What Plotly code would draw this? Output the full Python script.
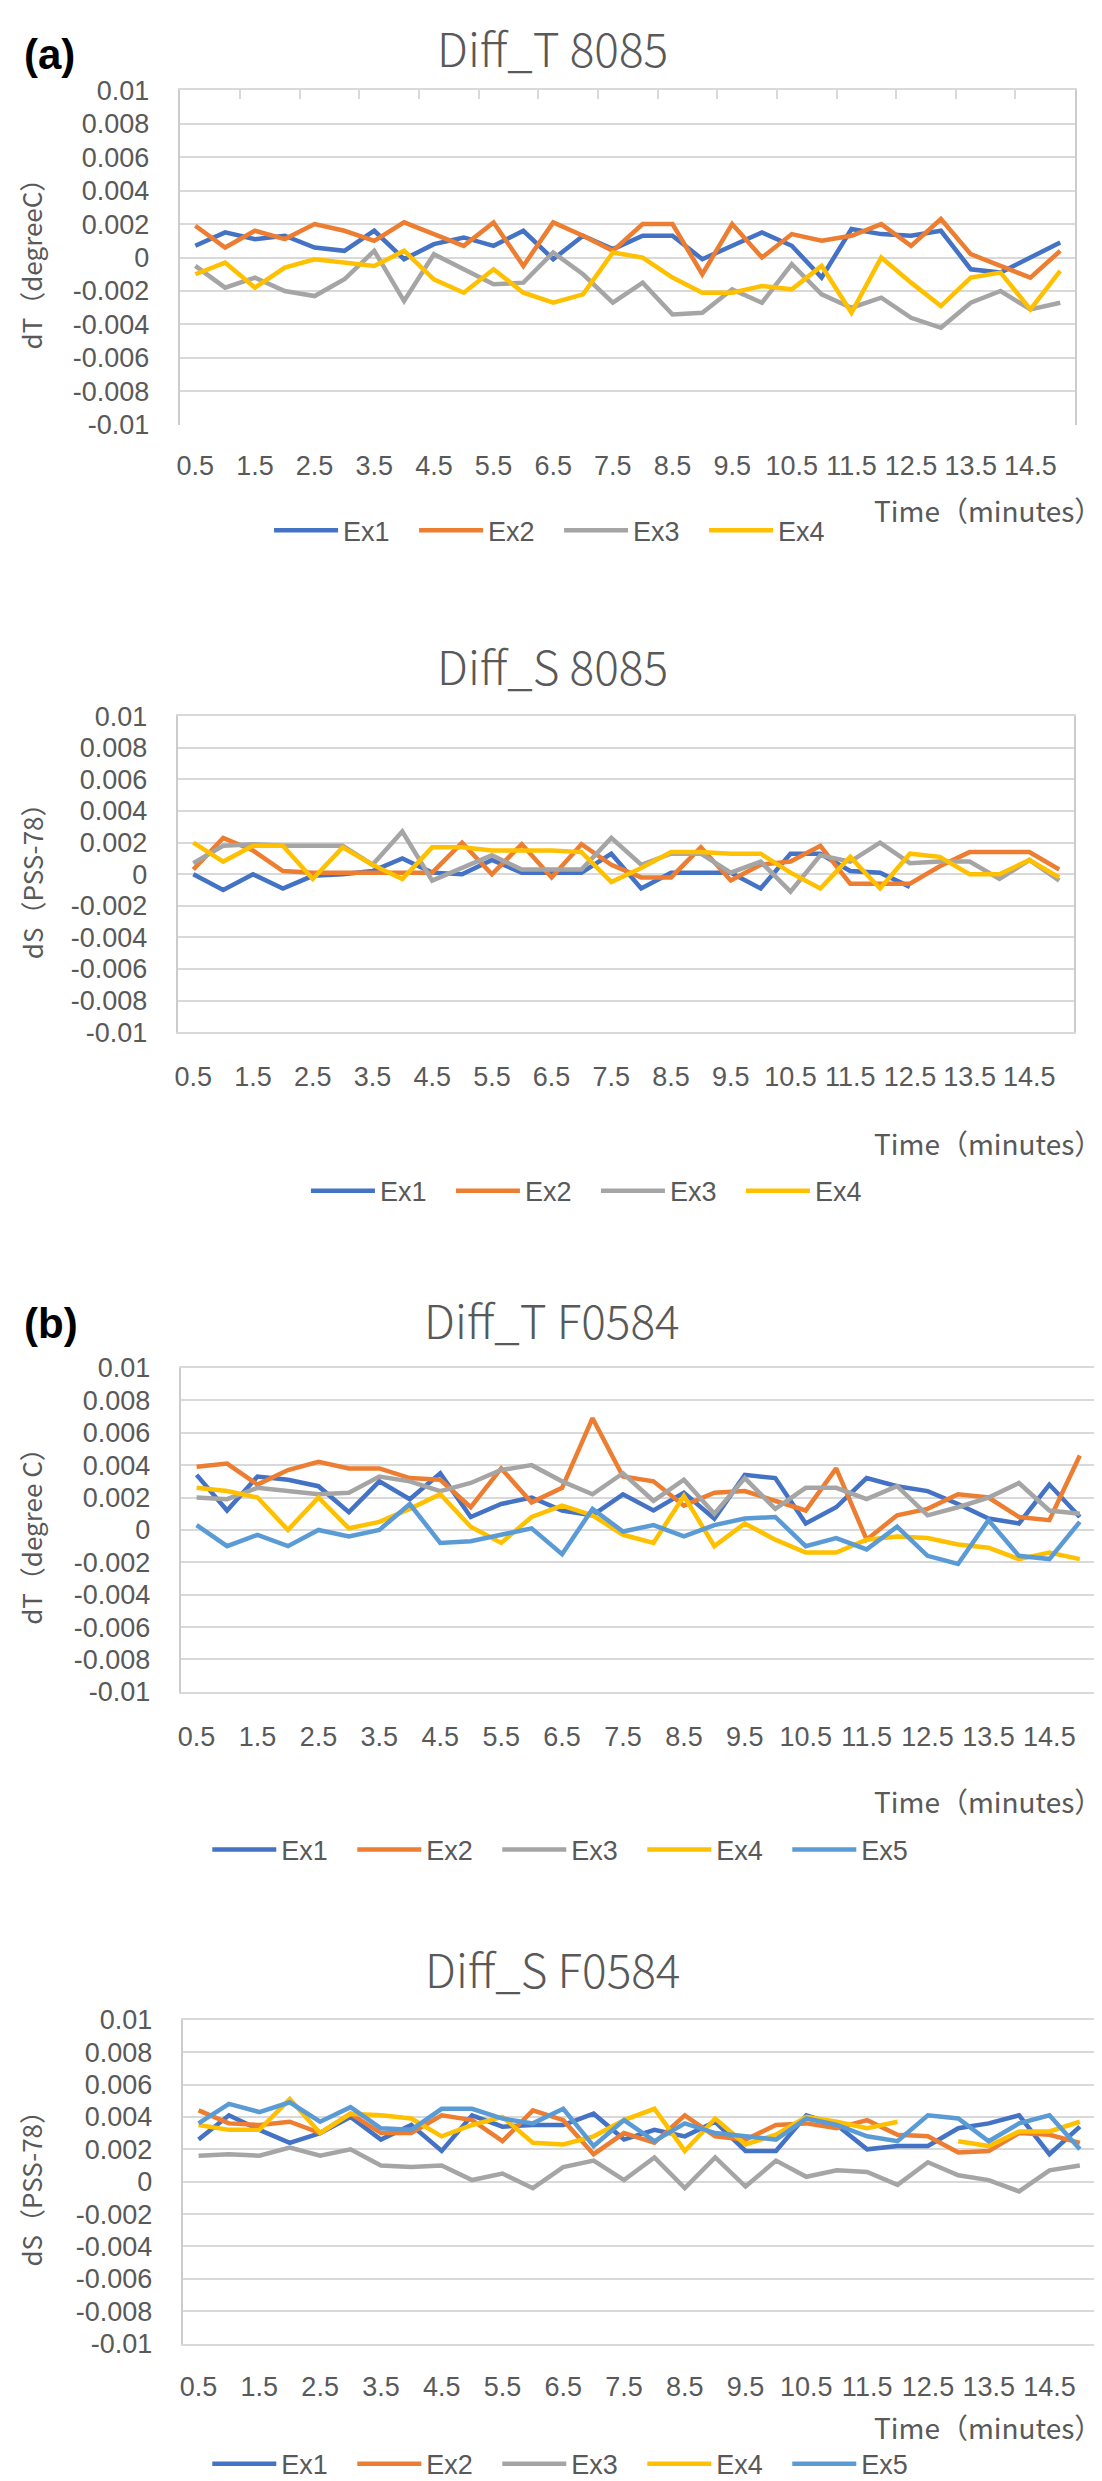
import plotly.graph_objects as go

# ---------------- data ----------------
times = [0.5, 1.0, 1.5, 2.0, 2.5, 3.0, 3.5, 4.0, 4.5, 5.0,
         5.5, 6.0, 6.5, 7.0, 7.5, 8.0, 8.5, 9.0, 9.5, 10.0,
         10.5, 11.0, 11.5, 12.0, 12.5, 13.0, 13.5, 14.0, 14.5, 15.0]
x_tick_vals = [0.5, 1.5, 2.5, 3.5, 4.5, 5.5, 6.5, 7.5, 8.5, 9.5, 10.5, 11.5, 12.5, 13.5, 14.5]
x_tick_text = ["0.5", "1.5", "2.5", "3.5", "4.5", "5.5", "6.5", "7.5", "8.5", "9.5",
               "10.5", "11.5", "12.5", "13.5", "14.5"]
x_top_ticks = [1.25, 2.25, 3.25, 4.25, 5.25, 6.25, 7.25, 8.25, 9.25, 10.25, 11.25, 12.25, 13.25, 14.25]
y_tick_vals = [-0.01, -0.008, -0.006, -0.004, -0.002, 0, 0.002, 0.004, 0.006, 0.008, 0.01]
y_tick_text = ["-0.01", "-0.008", "-0.006", "-0.004", "-0.002", "0", "0.002", "0.004", "0.006", "0.008", "0.01"]

series_names = ["Ex1", "Ex2", "Ex3", "Ex4", "Ex5"]

# (a) Diff_T 8085
t8085_ex1 = [0.0007, 0.0015, 0.0011, 0.0013, 0.0006, 0.0004, 0.0016, -0.0001, 0.0008, 0.0012,
             0.0007, 0.0016, -0.0001, 0.0013, 0.0005, 0.0013, 0.0013, -0.0001, 0.0007, 0.0015,
             0.0007, -0.0012, 0.0017, 0.0014, 0.0013, 0.0016, -0.0007, -0.0009, 0.0000, 0.0009]
t8085_ex2 = [0.0019, 0.0006, 0.0016, 0.0011, 0.0020, 0.0016, 0.0010, 0.0021, 0.0014, 0.0007,
             0.0021, -0.0005, 0.0021, 0.0013, 0.0004, 0.0020, 0.0020, -0.0010, 0.0020, 0.0000,
             0.0014, 0.0010, 0.0013, 0.0020, 0.0007, 0.0023, 0.0002, -0.0005, -0.0012, 0.0004]
t8085_ex3 = [-0.0005, -0.0018, -0.0012, -0.0020, -0.0023, -0.0013, 0.0004, -0.0026, 0.0002, -0.0007,
             -0.0016, -0.0015, 0.0003, -0.0010, -0.0027, -0.0015, -0.0034, -0.0033, -0.0019, -0.0027,
             -0.0004, -0.0022, -0.0030, -0.0024, -0.0036, -0.0042, -0.0027, -0.0020, -0.0031, -0.0027]
t8085_ex4 = [-0.0010, -0.0003, -0.0018, -0.0006, -0.0001, -0.0003, -0.0005, 0.0004, -0.0013, -0.0021,
             -0.0007, -0.0021, -0.0027, -0.0022, 0.0003, 0.0000, -0.0012, -0.0021, -0.0021, -0.0017,
             -0.0019, -0.0005, -0.0033, 0.0000, -0.0015, -0.0029, -0.0012, -0.0009, -0.0031, -0.0008]

# (a) Diff_S 8085
s8085_ex1 = [0.0000, -0.0010, 0.0000, -0.0009, -0.0001, 0.0000, 0.0002, 0.0010, 0.0001, 0.0000,
             0.0009, 0.0001, 0.0001, 0.0001, 0.0013, -0.0009, 0.0001, 0.0001, 0.0001, -0.0009,
             0.0013, 0.0013, 0.0002, 0.0001, -0.0008, None, None, None, None, None]
s8085_ex2 = [0.0003, 0.0023, 0.0015, 0.0002, 0.0001, 0.0001, 0.0001, 0.0001, 0.0001, 0.0020,
             0.0000, 0.0019, -0.0002, 0.0019, 0.0006, -0.0002, -0.0002, 0.0017, -0.0004, 0.0006,
             0.0008, 0.0018, -0.0006, -0.0006, -0.0006, 0.0005, 0.0014, 0.0014, 0.0014, 0.0003]
s8085_ex3 = [0.0007, 0.0018, 0.0019, 0.0018, 0.0018, 0.0018, 0.0006, 0.0027, -0.0004, 0.0004,
             0.0012, 0.0003, 0.0003, 0.0003, 0.0023, 0.0006, 0.0013, 0.0013, 0.0001, 0.0008,
             -0.0011, 0.0012, 0.0008, 0.0020, 0.0007, 0.0008, 0.0008, -0.0003, 0.0009, -0.0004]
s8085_ex4 = [0.0020, 0.0008, 0.0018, 0.0018, -0.0003, 0.0017, 0.0006, -0.0003, 0.0017, 0.0017,
             0.0015, 0.0015, 0.0015, 0.0014, -0.0005, 0.0004, 0.0014, 0.0014, 0.0013, 0.0013,
             0.0001, -0.0009, 0.0011, -0.0009, 0.0013, 0.0011, 0.0000, 0.0000, 0.0009, -0.0002]

# (b) Diff_T F0584
tf0584_ex1 = [0.0034, 0.0012, 0.0033, 0.0031, 0.0027, 0.0011, 0.0030, 0.0019, 0.0035, 0.0008,
              0.0016, 0.0020, 0.0012, 0.0009, 0.0022, 0.0012, 0.0023, 0.0007, 0.0034, 0.0032,
              0.0004, 0.0014, 0.0032, 0.0027, 0.0024, 0.0016, 0.0007, 0.0004, 0.0028, 0.0008]
tf0584_ex2 = [0.0039, 0.0041, 0.0028, 0.0037, 0.0042, 0.0038, 0.0038, 0.0032, 0.0031, 0.0014,
              0.0038, 0.0017, 0.0026, 0.0069, 0.0033, 0.0030, 0.0015, 0.0023, 0.0024, 0.0018,
              0.0012, 0.0038, -0.0006, 0.0009, 0.0013, 0.0022, 0.0020, 0.0008, 0.0006, 0.0046]
tf0584_ex3 = [0.0020, 0.0019, 0.0026, 0.0024, 0.0022, 0.0023, 0.0033, 0.0030, 0.0024, 0.0029,
              0.0037, 0.0040, 0.0030, 0.0022, 0.0035, 0.0018, 0.0031, 0.0010, 0.0032, 0.0013,
              0.0026, 0.0026, 0.0019, 0.0027, 0.0009, 0.0014, 0.0020, 0.0029, 0.0012, 0.0010]
tf0584_ex4 = [0.0026, 0.0024, 0.0020, 0.0000, 0.0020, 0.0001, 0.0005, 0.0013, 0.0022, 0.0002,
              -0.0008, 0.0008, 0.0015, 0.0009, -0.0003, -0.0008, 0.0021, -0.0010, 0.0004, -0.0006,
              -0.0014, -0.0014, -0.0006, -0.0004, -0.0005, -0.0009, -0.0011, -0.0018, -0.0014, -0.0018]
tf0584_ex5 = [0.0003, -0.0010, -0.0003, -0.0010, 0.0000, -0.0004, 0.0000, 0.0016, -0.0008, -0.0007,
              -0.0003, 0.0001, -0.0015, 0.0013, -0.0001, 0.0003, -0.0004, 0.0003, 0.0007, 0.0008,
              -0.0010, -0.0005, -0.0012, 0.0002, -0.0016, -0.0021, 0.0006, -0.0016, -0.0018, 0.0005]

# (b) Diff_S F0584
sf0584_ex1 = [0.0026, 0.0041, 0.0032, 0.0024, 0.0030, 0.0040, 0.0026, 0.0035, 0.0019, 0.0041,
              0.0034, 0.0035, 0.0035, 0.0042, 0.0026, 0.0032, 0.0028, 0.0037, 0.0019, 0.0019,
              0.0041, 0.0035, 0.0020, 0.0022, 0.0022, 0.0033, 0.0036, 0.0041, 0.0017, 0.0034]
sf0584_ex2 = [0.0044, 0.0036, 0.0035, 0.0037, 0.0030, 0.0042, 0.0030, 0.0030, 0.0041, 0.0038,
              0.0025, 0.0044, 0.0038, 0.0017, 0.0030, 0.0024, 0.0041, 0.0028, 0.0026, 0.0035,
              0.0036, 0.0033, 0.0038, 0.0029, 0.0028, 0.0018, 0.0019, 0.0030, 0.0029, 0.0024]
sf0584_ex3 = [0.0016, 0.0017, 0.0016, 0.0021, 0.0016, 0.0020, 0.0010, 0.0009, 0.0010, 0.0001,
              0.0005, -0.0004, 0.0009, 0.0013, 0.0001, 0.0015, -0.0004, 0.0015, -0.0003, 0.0013,
              0.0003, 0.0007, 0.0006, -0.0002, 0.0012, 0.0004, 0.0001, -0.0006, 0.0007, 0.0010]
sf0584_ex4 = [0.0035, 0.0032, 0.0032, 0.0051, 0.0030, 0.0042, 0.0041, 0.0039, 0.0028, 0.0035,
              0.0040, 0.0024, 0.0023, 0.0028, 0.0038, 0.0045, 0.0019, 0.0039, 0.0023, 0.0029,
              0.0040, 0.0037, 0.0033, 0.0037, None, 0.0025, 0.0022, 0.0031, 0.0031, 0.0037]
sf0584_ex5 = [0.0036, 0.0048, 0.0043, 0.0049, 0.0037, 0.0046, 0.0033, 0.0032, 0.0045, 0.0045,
              0.0039, 0.0036, 0.0045, 0.0022, 0.0038, 0.0025, 0.0036, 0.0030, 0.0028, 0.0026,
              0.0039, 0.0035, 0.0028, 0.0025, 0.0041, 0.0039, 0.0025, 0.0036, 0.0041, 0.0020]

# ---------------- style ----------------
W, H = 1102, 2481
COLORS = ["#4472C4", "#ED7D31", "#A5A5A5", "#FFC000", "#5B9BD5"]
FONT_CJK = "Noto Sans CJK JP, Noto Sans, sans-serif"
FONT_TICK = "Liberation Sans, Arial, sans-serif"
TXT = "#595959"
GRID = "#d9d9d9"
AXLINE = "#cccccc"
TICK_SIZE = 27
LINE_W = 4.5


def px_x(v):
    return v / W


def px_y(v):
    return 1 - v / H


panels = [
    dict(title="Diff_T 8085", ytitle="dT（degreeC）", box=(169, 1067, 68, 407),
         series=[t8085_ex1, t8085_ex2, t8085_ex3, t8085_ex4], title_y=24,
         tag="(a)", tag_y=32, time_y=493, legend_x=258, legend_y=514,
         top_ticks=True, bottom_line=False, standoff=22),
    dict(title="Diff_S 8085", ytitle="dS（PSS-78）", box=(167, 1066, 702, 1022),
         series=[s8085_ex1, s8085_ex2, s8085_ex3, s8085_ex4], title_y=650,
         tag=None, tag_y=None, time_y=1134, legend_x=295, legend_y=1183,
         top_ticks=False, bottom_line=True, standoff=20),
    dict(title="Diff_T F0584", ytitle="dT（degree C）", box=(170, 1087, 1362, 1690),
         series=[tf0584_ex1, tf0584_ex2, tf0584_ex3, tf0584_ex4, tf0584_ex5], title_y=1312,
         tag="(b)", tag_y=1317, time_y=1800, legend_x=196, legend_y=1850,
         top_ticks=False, bottom_line=True, standoff=20),
    dict(title="Diff_S F0584", ytitle="dS（PSS-78）", box=(172, 1087, 2022, 2350),
         series=[sf0584_ex1, sf0584_ex2, sf0584_ex3, sf0584_ex4, sf0584_ex5], title_y=1970,
         tag=None, tag_y=None, time_y=2434, legend_x=196, legend_y=2472,
         top_ticks=False, bottom_line=True, standoff=18),
]

fig = go.Figure()
layout = dict(
    width=W, height=H, margin=dict(l=0, r=0, t=0, b=0),
    paper_bgcolor="white", plot_bgcolor="white",
    font=dict(family=FONT_TICK, color=TXT, size=TICK_SIZE),
    annotations=[],
)

for k, p in enumerate(panels):
    n = k + 1
    xs = "" if n == 1 else str(n)
    x0, x1, y0, y1 = p["box"]
    xname, yname = "x" + xs, "y" + xs
    leg = "legend" if n == 1 else "legend" + str(n)

    for j, vals in enumerate(p["series"]):
        fig.add_trace(go.Scatter(
            x=times, y=vals, name=series_names[j], mode="lines",
            line=dict(color=COLORS[j], width=LINE_W),
            connectgaps=False, xaxis=xname, yaxis=yname, legend=leg,
        ))

    layout["xaxis" + xs] = dict(
        domain=[px_x(x0), px_x(x1)], anchor=yname, range=[0.25, 15.25],
        tickmode="array", tickvals=x_tick_vals, ticktext=x_tick_text,
        ticks="", showgrid=False, zeroline=False,
        showline=p["bottom_line"], linecolor=GRID, linewidth=1.5,
        mirror=p["bottom_line"] and not p["top_ticks"],
        tickfont=dict(size=TICK_SIZE, color=TXT, family=FONT_TICK),
        ticklabelstandoff=p["standoff"], fixedrange=True,
    )
    layout["yaxis" + xs] = dict(
        domain=[px_y(y1), px_y(y0)], anchor=xname, range=[-0.01, 0.01],
        tickmode="array", tickvals=y_tick_vals, ticktext=y_tick_text,
        ticks="", showgrid=True, gridcolor=GRID, gridwidth=1.5, zeroline=False,
        showline=True, linecolor=AXLINE, linewidth=1.5, mirror=True,
        tickfont=dict(size=TICK_SIZE, color=TXT, family=FONT_TICK),
        ticklabelstandoff=24, fixedrange=True,
    )

    if p["top_ticks"]:
        top_name = "xaxis" + str(n + 4)
        layout[top_name] = dict(
            overlaying=xname, anchor=yname, side="top", range=[0.25, 15.25],
            tickmode="array", tickvals=x_top_ticks, ticks="inside", ticklen=9,
            tickwidth=1.5, tickcolor=GRID, showticklabels=False, showgrid=False,
            zeroline=False, showline=True, linecolor=GRID, linewidth=1.5,
            fixedrange=True,
        )
        fig.add_trace(go.Scatter(x=[None], y=[None], mode="lines", showlegend=False,
                                 hoverinfo="skip", xaxis="x" + str(n + 4), yaxis=yname))

    layout[leg] = dict(
        orientation="h", x=px_x(p["legend_x"]), y=px_y(p["legend_y"]),
        xanchor="left", yanchor="middle", itemwidth=64, entrywidth=66,
        font=dict(size=TICK_SIZE, color=TXT, family=FONT_TICK),
        bgcolor="rgba(0,0,0,0)", tracegroupgap=0, itemclick=False,
    )

    # panel title
    layout["annotations"].append(dict(
        text=p["title"], x=px_x(542), y=px_y(p["title_y"]), xref="paper", yref="paper",
        xanchor="center", yanchor="middle", showarrow=False,
        font=dict(size=46, color=TXT, family=FONT_CJK, weight=300),
    ))
    # y axis title
    layout["annotations"].append(dict(
        text=p["ytitle"], x=px_x(19), y=px_y((y0 + y1) / 2), xref="paper", yref="paper",
        xanchor="center", yanchor="middle", showarrow=False, textangle=-90,
        font=dict(size=26, color=TXT, family=FONT_CJK),
    ))
    # x axis title
    layout["annotations"].append(dict(
        text="Time（minutes）", x=px_x(1096), y=px_y(p["time_y"]), xref="paper", yref="paper",
        xanchor="right", yanchor="middle", showarrow=False,
        font=dict(size=28, color=TXT, family=FONT_CJK),
    ))
    if p["tag"]:
        layout["annotations"].append(dict(
            text="<b>" + p["tag"] + "</b>", x=px_x(10), y=px_y(p["tag_y"]),
            xref="paper", yref="paper", xanchor="left", yanchor="middle", showarrow=False,
            font=dict(size=42, color="black", family="Liberation Sans, Arial, sans-serif"),
        ))

fig.update_layout(**layout)
fig.write_html("out.html")
